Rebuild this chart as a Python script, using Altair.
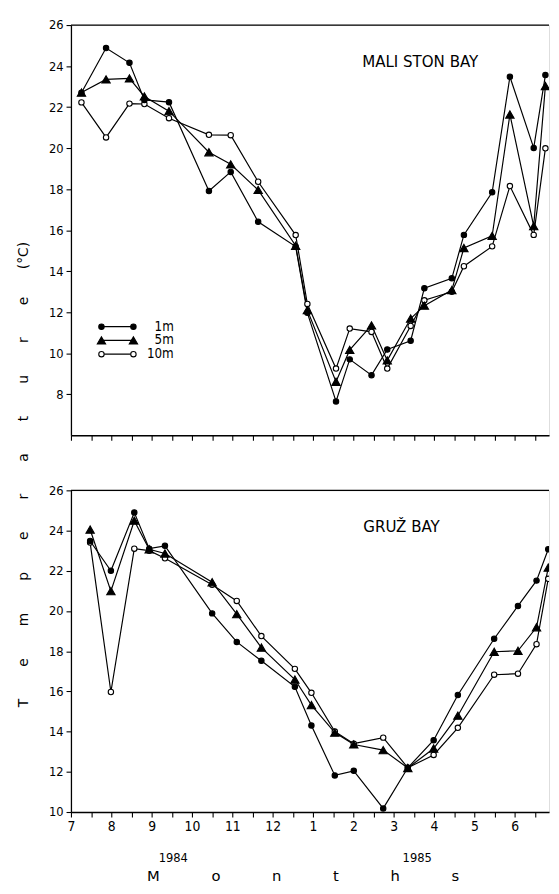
import altair as alt
import pandas as pd

SERIES = ["1m", "5m", "10m"]

# Mali Ston Bay: sampling positions (months after 1 July 1984) and temperatures (°C)
mali_x = [0.26, 0.87, 1.45, 1.82, 2.43, 3.42, 3.96, 4.64, 5.57, 5.86, 6.57,
          6.91, 7.45, 7.84, 8.42, 8.76, 9.44, 9.74, 10.44, 10.88, 11.47, 11.76]
mali_1m = [22.7, 24.88, 24.16, 22.35, 22.24, 17.91, 18.84, 16.41, 15.2, 11.97, 7.65,
           9.70, 8.93, 10.18, 10.61, 13.17, 13.65, 15.77, 17.85, 23.48, 20.01, 23.56]
mali_5m = [22.71, 23.35, 23.40, 22.52, 21.80, 19.80, 19.21, 17.96, 15.24, 12.10, 8.61,
           10.16, 11.36, 9.65, 11.69, 12.32, 13.08, 15.13, 15.72, 21.64, 16.20, 23.03]
mali_10m = [22.23, 20.52, 22.17, 22.15, 21.46, 20.65, 20.63, 18.36, 15.76, 12.40, 9.25,
            11.20, 11.04, 9.25, 11.33, 12.58, 13.0, 14.24, 15.21, 18.15, 15.77, 19.99]

# Gruž Bay
gruz_x = [0.475, 0.99, 1.57, 1.94, 2.33, 3.50, 4.11, 4.72, 5.55, 5.96,
          6.54, 7.01, 7.74, 8.35, 8.99, 9.59, 10.49, 11.08, 11.54, 11.83]
gruz_1m = [23.48, 22.0, 24.90, 23.1, 23.24, 19.88, 18.46, 17.52, 16.23, 14.30,
           11.82, 12.05, 10.18, 12.2, 13.57, 15.82, 18.62, 20.25, 21.51, 23.07]
gruz_5m = [24.05, 20.99, 24.49, 23.07, 22.86, 21.43, 19.84, 18.18, 16.59, 15.32,
           13.95, 13.36, 13.08, 12.19, 13.16, 14.79, 17.97, 18.02, 19.19, 22.16]
gruz_10m = [23.4, 15.97, 23.10, 23.0, 22.62, 21.3, 20.50, 18.75, 17.12, 15.93,
            14.0, 13.4, 13.70, 12.2, 12.84, 14.19, 16.83, 16.88, 18.35, 21.6]

mali_yticks = [8, 10, 12, 14, 16, 18, 20, 22, 24, 26]
gruz_yticks = [10, 12, 14, 16, 18, 20, 22, 24, 26]
x_ticks = [k * 0.5 for k in range(0, 24)]

FONT_C = "'DejaVu Sans Condensed', 'Liberation Sans Narrow', 'DejaVu Sans', sans-serif"
FONT = "'DejaVu Sans', sans-serif"
XMAX = 11.85
W = 486
H_TOP = 417
H_BOT = 327
GAP = "\u2003\u2003\u2004"
MGAP = "\u2003\u2003\u2003\u2002"
STYLE = {"1m": ("circle", "black", 30), "5m": ("triangle-up", "black", 72), "10m": ("circle", "white", 30)}


def long_df(xs, a, b, c):
    rows = []
    for name, vals in (("1m", a), ("5m", b), ("10m", c)):
        for x, v in zip(xs, vals):
            rows.append({"x": x, "t": v, "series": name})
    return pd.DataFrame(rows)


def data_layers(df, ydom, yvals, show_labels):
    xs = alt.Scale(domain=[0, XMAX], nice=False, zero=False)
    ys = alt.Scale(domain=ydom, nice=False, zero=False)
    xaxis = alt.Axis(values=x_ticks, labels=show_labels,
                     labelExpr="datum.value % 1 === 0 ? '' + ((datum.value + 6) % 12 + 1) : ''",
                     title=None, grid=False, tickSize=5, tickColor="black", tickWidth=1.1,
                     domainColor="black", domainWidth=1.3, labelFont=FONT_C, labelFontSize=14,
                     labelColor="black", labelFlush=False, labelOverlap=False, labelPadding=3)
    yaxis = alt.Axis(values=yvals, title=None, grid=False, tickSize=5, tickColor="black",
                     tickWidth=1.1, domainColor="black", domainWidth=1.3, labelFont=FONT_C,
                     labelFontSize=13, labelColor="black", labelFlush=False,
                     labelOverlap=False, labelPadding=3)
    base = alt.Chart(df)
    X = alt.X("x:Q", scale=xs, axis=xaxis)
    Y = alt.Y("t:Q", scale=ys, axis=yaxis)
    layers = [base.mark_line(color="black", strokeWidth=1.2, clip=True).encode(
        x=X, y=Y, detail="series:N", order="x:Q")]
    for name in ("10m", "1m", "5m"):
        shp, fil, sz = STYLE[name]
        layers.append(
            base.transform_filter(alt.datum.series == name)
            .mark_point(shape=shp, filled=True, fill=fil, stroke="black", strokeWidth=1.1,
                        size=sz, opacity=1, clip=True)
            .encode(x=X, y=Y)
        )
    return layers


one = pd.DataFrame({"k": [0]})


def top_rule():
    return alt.Chart(one).mark_rule(color="black", strokeWidth=1.3).encode(
        x=alt.value(0), x2=alt.value(W), y=alt.value(0))


def label(text, x, y, size, font=FONT, angle=0, align="center"):
    return alt.Chart(one).mark_text(text=text, font=font, fontSize=size, color="black",
                                    angle=angle, align=align, baseline="middle").encode(
        x=alt.value(x), y=alt.value(y))


legend = []
for i, name in enumerate(SERIES):
    yy = 306.6 + 14.0 * i
    shp, fil, sz = STYLE[name]
    d = pd.DataFrame({"series": [name]})
    legend.append(alt.Chart(d).mark_rule(color="black", strokeWidth=1.2).encode(
        x=alt.value(31), x2=alt.value(63.5), y=alt.value(yy)))
    for xx in (31, 63.5):
        legend.append(alt.Chart(d).mark_point(shape=shp, filled=True, fill=fil, stroke="black",
                                              strokeWidth=1.1, size=sz, opacity=1).encode(
            x=alt.value(xx), y=alt.value(yy)))
    legend.append(label(name, 104.5, yy, 13.5, font=FONT_C, align="right"))

mali_df = long_df(mali_x, mali_1m, mali_5m, mali_10m)
gruz_df = long_df(gruz_x, gruz_1m, gruz_5m, gruz_10m)

top = alt.layer(
    *data_layers(mali_df, [6, 26], mali_yticks, False),
    top_rule(),
    label("MALI STON BAY", 355, 38, 17, font=FONT_C),
    *legend,
).properties(width=W, height=H_TOP)

ytitle = "T" + GAP + "e" + GAP + "m" + GAP + "p" + GAP + "e" + GAP + "r" + GAP + "a" + GAP + \
         "t" + GAP + "u" + GAP + "r" + GAP + "e" + "\u2003\u2003" + "(°C)"
months = "M" + MGAP + "o" + MGAP + "n" + MGAP + "t" + MGAP + "h" + MGAP + "s"

bottom = alt.layer(
    *data_layers(gruz_df, [10, 26], gruz_yticks, True),
    top_rule(),
    label("GRUŽ BAY", 336, 37, 17, font=FONT_C),
    label(ytitle, -47.5, -16, 14, angle=270),
    label("1984", 104, 374, 13, font=FONT_C),
    label("1985", 352, 374, 13, font=FONT_C),
    label(months, 236, 392, 15),
).properties(width=W, height=H_BOT)

chart = alt.vconcat(top, bottom, spacing=56, bounds="flush").properties(
    padding={"left": 8, "top": 3, "right": 0, "bottom": 2}
).configure_view(stroke=None).configure(background="white")

chart.save("out.html", embed_options={"renderer": "svg", "actions": False})
